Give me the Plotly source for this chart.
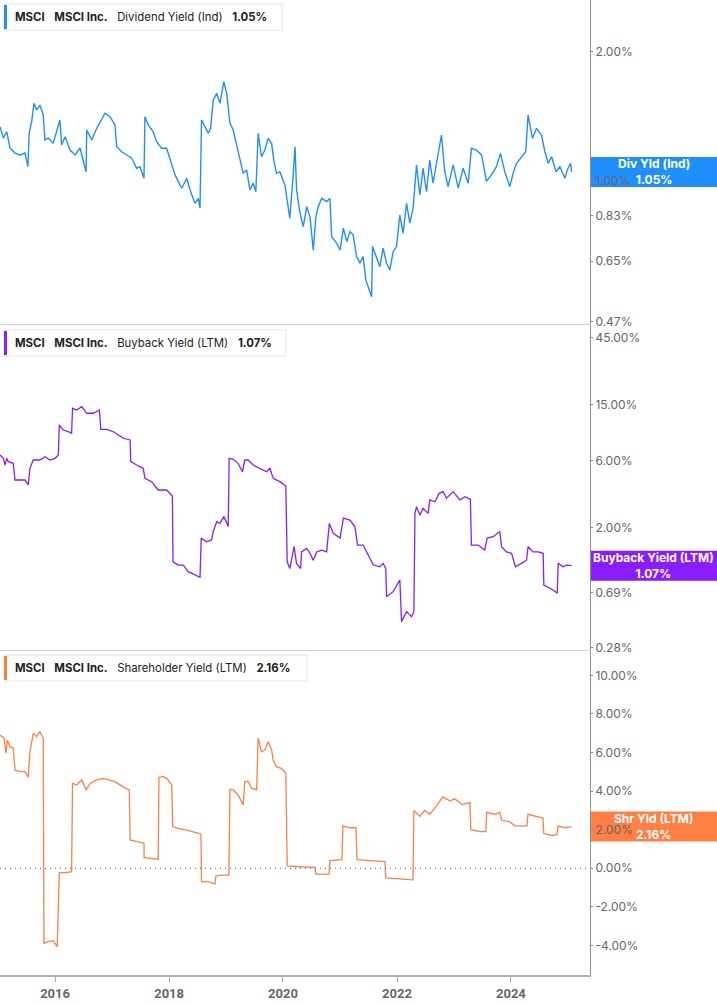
from math import log10
from typing import List

from plotly.graph_objs import Figure, Scatter
from plotly.subplots import make_subplots

# ---- data (values in %) ----
DIV_DATES = [
    '2015-01-13', '2015-02-04', '2015-02-25', '2015-03-07', '2015-03-18', '2015-04-19', '2015-05-21', '2015-06-22',
    '2015-07-11', '2015-07-19', '2015-08-04', '2015-08-19', '2015-09-05', '2015-09-26', '2015-10-17', '2015-10-28',
    '2015-11-18', '2015-12-20', '2016-01-11', '2016-02-01', '2016-02-12', '2016-03-05', '2016-04-06', '2016-05-08',
    '2016-06-09', '2016-07-01', '2016-07-18', '2016-07-22', '2016-08-23', '2016-09-24', '2016-10-15', '2016-11-16',
    '2016-12-18', '2017-01-19', '2017-01-30', '2017-03-03', '2017-04-04', '2017-05-06', '2017-06-07', '2017-06-28',
    '2017-07-24', '2017-07-30', '2017-08-20', '2017-09-21', '2017-10-13', '2017-11-14', '2017-12-16', '2018-01-07',
    '2018-02-08', '2018-03-23', '2018-04-24', '2018-05-15', '2018-06-16', '2018-07-07', '2018-07-18', '2018-07-28',
    '2018-08-19', '2018-09-09', '2018-09-24', '2018-10-11', '2018-11-02', '2018-11-23', '2018-12-18', '2019-01-05',
    '2019-01-26', '2019-02-16', '2019-03-10', '2019-03-31', '2019-04-21', '2019-05-13', '2019-06-03', '2019-06-24',
    '2019-07-11', '2019-07-26', '2019-08-16', '2019-09-07', '2019-09-28', '2019-10-20', '2019-11-03', '2019-11-20',
    '2019-12-12', '2020-01-13', '2020-02-14', '2020-03-07', '2020-03-18', '2020-03-28', '2020-04-19', '2020-05-10',
    '2020-06-01', '2020-06-22', '2020-07-13', '2020-07-30', '2020-08-14', '2020-09-05', '2020-10-07', '2020-10-28',
    '2020-11-08', '2020-12-10', '2021-01-01', '2021-01-22', '2021-02-13', '2021-03-05', '2021-03-26', '2021-04-17',
    '2021-05-08', '2021-05-29', '2021-06-15', '2021-07-07', '2021-07-22', '2021-07-28', '2021-08-23', '2021-09-13',
    '2021-10-04', '2021-10-26', '2021-11-16', '2021-12-07', '2021-12-29', '2022-01-19', '2022-02-09', '2022-03-03',
    '2022-03-24', '2022-04-14', '2022-05-06', '2022-05-27', '2022-06-17', '2022-07-09', '2022-07-30', '2022-08-20',
    '2022-09-11', '2022-09-28', '2022-10-13', '2022-11-03', '2022-11-24', '2022-12-27', '2023-01-28', '2023-03-01',
    '2023-04-02', '2023-04-23', '2023-05-25', '2023-06-27', '2023-07-28', '2023-08-29', '2023-09-30', '2023-10-26',
    '2023-11-23', '2023-12-25', '2024-01-15', '2024-02-06', '2024-03-08', '2024-04-05', '2024-04-20', '2024-05-18',
    '2024-06-13', '2024-07-15', '2024-08-06', '2024-08-27', '2024-09-18', '2024-10-16', '2024-11-10', '2024-12-12',
    '2024-12-27', '2025-01-18', '2025-01-24',
]
DIV_YIELD = [
    1.339, 1.260, 1.303, 1.246, 1.194, 1.162, 1.150, 1.162,
    1.080, 1.294, 1.375, 1.518, 1.464, 1.504, 1.426, 1.246,
    1.260, 1.224, 1.315, 1.388, 1.213, 1.269, 1.181, 1.150,
    1.194, 1.119, 1.051, 1.315, 1.246, 1.327, 1.375, 1.439,
    1.413, 1.351, 1.202, 1.170, 1.150, 1.130, 1.071, 1.080,
    1.015, 1.413, 1.351, 1.303, 1.235, 1.192, 1.192, 1.119,
    1.033, 0.962, 1.015, 0.953, 0.887, 0.911, 0.864, 1.388,
    1.339, 1.292, 1.327, 1.545, 1.602, 1.518, 1.705, 1.602,
    1.363, 1.315, 1.213, 1.119, 1.042, 1.061, 0.953, 0.988,
    0.944, 1.292, 1.139, 1.181, 1.258, 1.224, 1.119, 1.042,
    1.051, 0.979, 0.818, 1.042, 1.202, 0.953, 0.842, 0.782,
    0.871, 0.825, 0.690, 0.825, 0.871, 0.911, 0.895, 0.911,
    0.741, 0.716, 0.690, 0.776, 0.722, 0.762, 0.748, 0.666,
    0.643, 0.666, 0.587, 0.557, 0.537, 0.703, 0.660, 0.631,
    0.697, 0.643, 0.620, 0.684, 0.703, 0.833, 0.755, 0.887,
    0.797, 0.864, 1.090, 0.928, 1.071, 0.944, 1.119, 0.988,
    1.100, 1.192, 1.280, 1.051, 0.970, 1.090, 0.962, 1.071,
    0.988, 1.192, 1.181, 1.150, 0.998, 1.033, 1.080, 1.160,
    1.051, 0.970, 1.042, 1.100, 1.139, 1.170, 1.426, 1.258,
    1.327, 1.280, 1.170, 1.100, 1.139, 1.051, 1.080, 1.015,
    1.061, 1.100, 1.050,
]

BUYBACK_DATES = [
    '2015-01-13', '2015-02-04', '2015-02-14', '2015-02-25', '2015-03-07', '2015-04-08', '2015-04-19', '2015-05-21',
    '2015-06-22', '2015-07-13', '2015-07-24', '2015-08-14', '2015-09-26', '2015-10-28', '2015-11-29', '2016-01-01',
    '2016-01-22', '2016-01-28', '2016-02-22', '2016-03-25', '2016-04-16', '2016-04-22', '2016-05-18', '2016-06-20',
    '2016-07-22', '2016-09-02', '2016-10-11', '2016-10-20', '2016-11-27', '2017-01-09', '2017-02-10', '2017-03-14',
    '2017-04-26', '2017-04-30', '2017-06-07', '2017-07-19', '2017-07-30', '2017-09-11', '2017-10-23', '2017-12-16',
    '2018-01-22', '2018-01-26', '2018-02-28', '2018-04-02', '2018-05-04', '2018-06-16', '2018-07-18', '2018-07-26',
    '2018-08-29', '2018-09-30', '2018-10-11', '2018-11-02', '2018-11-23', '2018-12-18', '2019-01-15', '2019-01-21',
    '2019-02-16', '2019-03-19', '2019-04-16', '2019-05-01', '2019-05-23', '2019-06-24', '2019-08-06', '2019-09-18',
    '2019-10-09', '2019-10-30', '2019-12-12', '2020-01-19', '2020-01-28', '2020-02-14', '2020-03-12', '2020-03-28',
    '2020-04-23', '2020-04-29', '2020-06-01', '2020-06-22', '2020-07-13', '2020-08-04', '2020-09-05', '2020-10-07',
    '2020-10-24', '2020-11-18', '2021-01-01', '2021-01-22', '2021-03-05', '2021-04-06', '2021-04-23', '2021-05-29',
    '2021-07-01', '2021-08-02', '2021-09-13', '2021-10-04', '2021-10-21', '2021-10-26', '2021-12-07', '2022-01-19',
    '2022-01-30', '2022-03-03', '2022-04-04', '2022-04-19', '2022-04-26', '2022-05-06', '2022-05-27', '2022-06-17',
    '2022-07-19', '2022-07-30', '2022-09-01', '2022-09-28', '2022-10-24', '2022-11-14', '2022-12-27', '2023-02-08',
    '2023-03-12', '2023-04-16', '2023-04-23', '2023-06-05', '2023-07-17', '2023-08-02', '2023-09-09', '2023-10-22',
    '2023-11-02', '2023-12-04', '2024-01-05', '2024-01-30', '2024-03-08', '2024-04-10', '2024-04-20', '2024-05-22',
    '2024-06-24', '2024-07-26', '2024-07-30', '2024-09-07', '2024-09-28', '2024-10-24', '2024-10-30', '2024-12-01',
    '2024-12-23', '2025-01-24',
]
BUYBACK_YIELD = [
    6.57, 6.22, 5.57, 6.22, 5.89, 5.73, 4.36, 4.36,
    4.36, 4.02, 5.28, 6.05, 6.05, 6.39, 6.05, 6.22,
    6.57, 10.74, 9.89, 9.62, 9.37, 14.13, 13.74, 14.50,
    13.02, 13.02, 13.74, 10.01, 10.01, 9.62, 9.12, 8.64,
    8.40, 5.89, 5.57, 5.28, 4.48, 4.24, 3.70, 3.70,
    3.35, 1.14, 1.08, 1.08, 0.969, 0.918, 0.884, 1.68,
    1.58, 1.63, 1.87, 2.20, 2.14, 2.39, 2.03, 6.22,
    6.12, 5.73, 4.99, 6.05, 6.05, 5.57, 5.28, 4.99,
    5.28, 4.48, 4.24, 3.95, 1.14, 1.02, 1.46, 1.11,
    1.02, 1.34, 1.42, 1.31, 1.17, 1.34, 1.38, 1.34,
    2.14, 1.82, 1.68, 2.33, 2.26, 2.03, 1.50, 1.50,
    1.27, 1.08, 1.05, 1.11, 1.02, 0.643, 0.698, 0.846,
    0.427, 0.503, 0.463, 0.503, 2.52, 2.81, 2.45, 2.74,
    2.52, 3.14, 3.05, 3.50, 3.60, 3.23, 3.60, 3.14,
    3.31, 3.18, 1.50, 1.50, 1.38, 1.68, 1.72, 1.87,
    1.46, 1.34, 1.31, 1.05, 1.11, 1.17, 1.46, 1.34,
    1.34, 1.31, 0.779, 0.738, 0.718, 0.680, 1.11, 1.05,
    1.08, 1.07,
]

SHR_DATES = [
    '2015-01-13', '2015-02-08', '2015-02-21', '2015-03-01', '2015-03-18', '2015-04-08', '2015-04-19', '2015-05-21',
    '2015-06-22', '2015-07-13', '2015-07-24', '2015-08-14', '2015-09-05', '2015-09-26', '2015-10-17', '2015-10-22',
    '2015-11-18', '2015-12-20', '2016-01-15', '2016-01-28', '2016-03-15', '2016-04-16', '2016-04-22', '2016-05-18',
    '2016-06-20', '2016-07-18', '2016-08-12', '2016-09-24', '2016-11-05', '2016-12-18', '2017-01-19', '2017-02-21',
    '2017-03-25', '2017-04-21', '2017-04-26', '2017-06-07', '2017-07-24', '2017-07-25', '2017-09-11', '2017-10-23',
    '2017-10-28', '2017-11-24', '2017-12-16', '2018-01-18', '2018-01-24', '2018-02-28', '2018-04-24', '2018-06-05',
    '2018-07-24', '2018-07-28', '2018-09-09', '2018-10-22', '2018-10-28', '2018-12-03', '2019-01-19', '2019-01-26',
    '2019-02-16', '2019-03-19', '2019-04-21', '2019-05-01', '2019-05-23', '2019-06-14', '2019-07-16', '2019-07-26',
    '2019-08-16', '2019-09-07', '2019-09-28', '2019-10-20', '2019-10-30', '2019-11-20', '2019-12-22', '2020-01-19',
    '2020-01-28', '2020-04-19', '2020-07-24', '2020-07-30', '2020-10-22', '2020-10-28', '2021-01-13', '2021-01-19',
    '2021-03-05', '2021-04-13', '2021-04-19', '2021-07-11', '2021-10-15', '2021-10-21', '2022-01-19', '2022-04-13',
    '2022-04-19', '2022-05-27', '2022-06-28', '2022-07-30', '2022-09-07', '2022-10-22', '2022-12-06', '2023-01-07',
    '2023-02-21', '2023-04-13', '2023-04-19', '2023-06-16', '2023-07-24', '2023-07-30', '2023-09-19', '2023-10-22',
    '2023-11-03', '2023-12-25', '2024-01-26', '2024-04-13', '2024-04-19', '2024-06-03', '2024-07-24', '2024-07-30',
    '2024-09-19', '2024-10-22', '2024-10-30', '2024-12-12', '2025-01-24',
]
SHR_YIELD = [
    6.91, 6.74, 5.96, 6.65, 6.30, 6.22, 5.09, 5.01,
    5.01, 4.72, 6.04, 6.99, 6.82, 7.08, 6.74, -3.89,
    -3.80, -3.75, -4.06, -0.23, -0.23, -0.18, 4.40, 4.32,
    4.58, 4.06, 4.40, 4.58, 4.66, 4.58, 4.49, 4.32,
    4.15, 4.06, 1.47, 1.38, 1.30, 0.55, 0.52, 0.47,
    4.72, 4.75, 4.66, 4.32, 2.16, 2.07, 1.98, 1.90,
    1.78, -0.69, -0.69, -0.81, -0.40, -0.35, -0.35, 4.09,
    4.06, 3.80, 3.28, 4.49, 4.49, 4.15, 4.06, 6.74,
    6.04, 6.13, 6.56, 6.13, 5.61, 5.26, 5.18, 4.92,
    0.13, 0.08, 0.05, -0.30, -0.30, 0.40, 0.45, 2.20,
    2.10, 2.10, 0.45, 0.40, 0.35, -0.50, -0.55, -0.60,
    3.00, 2.70, 3.00, 2.80, 3.20, 3.70, 3.50, 3.60,
    3.30, 3.40, 2.00, 1.90, 1.90, 2.90, 2.80, 2.90,
    2.50, 2.40, 2.20, 2.20, 2.80, 2.70, 2.60, 1.80,
    1.70, 1.75, 2.20, 2.10, 2.16,
]

DIV_TICKS = [0.47, 0.65, 0.83, 1.00, 2.00]
BUYBACK_TICKS = [0.28, 0.69, 2.00, 6.00, 15.00, 45.00]
SHR_TICKS = [-4, -2, 0, 2, 4, 6, 8, 10]
YEAR_TICKS = ['2016-01-01', '2018-01-01', '2020-01-01', '2022-01-01', '2024-01-01']
YEAR_LABELS = ['2016', '2018', '2020', '2022', '2024']

BLUE = '#1f8fff'
PURPLE = '#8a1dff'
ORANGE = '#ff7f45'

W, H = 717, 1005
PLOT_W, PLOT_H = 590, 975
FONT = 'Inter, Roboto, sans-serif'
GAP = '\u00a0\u00a0\u00a0'


def _py(px: float) -> float:
    return 1 - px / PLOT_H


# panel layout: (y range, domain, log axis)
PANELS = {
    'y': ([-0.3337, 0.4223], [_py(324), 1.0], True),
    'y2': ([-0.5715, 1.7433], [_py(650), _py(325)], True),
    'y3': ([-5.53, 11.26], [0.0, _py(651)], False),
}


def _value_to_paper(yref: str, value: float) -> float:
    rng, dom, log = PANELS[yref]
    t = log10(value) if log else value
    return dom[0] + (t - rng[0]) / (rng[1] - rng[0]) * (dom[1] - dom[0])


def _style_yaxis(fig: Figure, row: int, yref: str, ticks: List[float]):
    rng, dom, log = PANELS[yref]
    fig.update_yaxes(type='log' if log else 'linear', range=rng, domain=dom, side='right',
                     tickvals=ticks, ticktext=[f'{t:.2f}%' for t in ticks],
                     ticks='outside', ticklen=2, tickcolor='#888',
                     showline=True, linecolor='#8f8f8f', linewidth=1,
                     showgrid=False, zeroline=False,
                     tickfont=dict(family=FONT, size=12, color='#666'),
                     row=row, col=1)


def _add_legend_box(fig: Figure, top: float, width: float, color: str, name: str, last: float):
    fig.add_shape(type='rect', xref='paper', yref='paper', xsizemode='pixel', ysizemode='pixel',
                  xanchor=0, yanchor=_py(top), x0=4, x1=4 + width, y0=-26, y1=0,
                  fillcolor='white', line=dict(color='#e4e4e4', width=1), layer='above')
    fig.add_shape(type='rect', xref='paper', yref='paper', xsizemode='pixel', ysizemode='pixel',
                  xanchor=0, yanchor=_py(top), x0=4, x1=7, y0=-25, y1=-1,
                  fillcolor=color, line=dict(width=0), layer='above')
    text = f'<b>MSCI</b>{GAP}<b>MSCI Inc.</b>{GAP}{name}{GAP}<b>{last:.2f}%</b>'
    fig.add_annotation(x=13 / PLOT_W, y=_py(top + 13), xref='paper', yref='paper',
                       xanchor='left', yanchor='middle', showarrow=False, text=text,
                       font=dict(family=FONT, size=11.4, color='#222'))


def _add_badge(fig: Figure, yref: str, color: str, label: str, last: float):
    y = _value_to_paper(yref, last)
    fig.add_shape(type='rect', xref='paper', yref='paper', xsizemode='pixel', ysizemode='pixel',
                  xanchor=1, yanchor=y, x0=0, x1=W - PLOT_W, y0=-15, y1=15,
                  fillcolor=color, line=dict(width=0), layer='below')
    fig.add_annotation(x=1 + (W - PLOT_W) / 2 / PLOT_W, y=y, xref='paper', yref='paper',
                       xanchor='center', yanchor='middle', showarrow=False,
                       text=f'<b>{label}<br>{last:.2f}%</b>',
                       font=dict(family=FONT, size=12, color='white'))


def build_figure() -> Figure:
    fig = make_subplots(rows=3, cols=1, shared_xaxes=True, vertical_spacing=0.001)
    fig.add_trace(Scatter(x=DIV_DATES, y=DIV_YIELD, mode='lines', line=dict(color=BLUE, width=1.4)), row=1, col=1)
    fig.add_trace(Scatter(x=BUYBACK_DATES, y=BUYBACK_YIELD, mode='lines', line=dict(color=PURPLE, width=1.3)), row=2, col=1)
    fig.add_trace(Scatter(x=SHR_DATES, y=SHR_YIELD, mode='lines', line=dict(color=ORANGE, width=1.3)), row=3, col=1)

    fig.update_layout(width=W, height=H, margin=dict(l=0, r=W - PLOT_W, t=0, b=H - PLOT_H, pad=0),
                      paper_bgcolor='white', plot_bgcolor='white', showlegend=False,
                      font=dict(family=FONT))

    _style_yaxis(fig, 1, 'y', DIV_TICKS)
    _style_yaxis(fig, 2, 'y2', BUYBACK_TICKS)
    _style_yaxis(fig, 3, 'y3', SHR_TICKS)

    fig.update_xaxes(range=['2015-01-13', '2025-05-22'], showgrid=False, zeroline=False,
                     showline=True, linecolor='#cfcfcf', linewidth=1, ticks='', showticklabels=False)
    fig.update_xaxes(row=3, col=1, showticklabels=True, tickvals=YEAR_TICKS, ticktext=YEAR_LABELS,
                     ticks='outside', ticklen=5, tickcolor='#aaa', linecolor='#b0b0b0', linewidth=2,
                     tickfont=dict(family='Roboto', size=13, color='#666', weight='bold'))

    # dotted zero line in the shareholder yield panel
    fig.add_shape(type='line', xref='paper', yref='y3', x0=0, x1=1, y0=0, y1=0,
                  line=dict(color='#555', width=1, dash='1px,4px'))

    _add_legend_box(fig, 4, 278, BLUE, 'Dividend Yield (Ind)', DIV_YIELD[-1])
    _add_legend_box(fig, 330, 282, PURPLE, 'Buyback Yield (LTM)', BUYBACK_YIELD[-1])
    _add_legend_box(fig, 655, 303, ORANGE, 'Shareholder Yield (LTM)', SHR_YIELD[-1])

    _add_badge(fig, 'y', BLUE, 'Div Yld (Ind)', DIV_YIELD[-1])
    _add_badge(fig, 'y2', PURPLE, 'Buyback Yield (LTM)', BUYBACK_YIELD[-1])
    _add_badge(fig, 'y3', ORANGE, 'Shr Yld (LTM)', SHR_YIELD[-1])
    return fig


if __name__ == '__main__':
    # the page's default 8px body margin would shift the whole chart
    build_figure().write_html('out.html', config={'displayModeBar': False},
                              post_script="document.body.style.margin='0';")
